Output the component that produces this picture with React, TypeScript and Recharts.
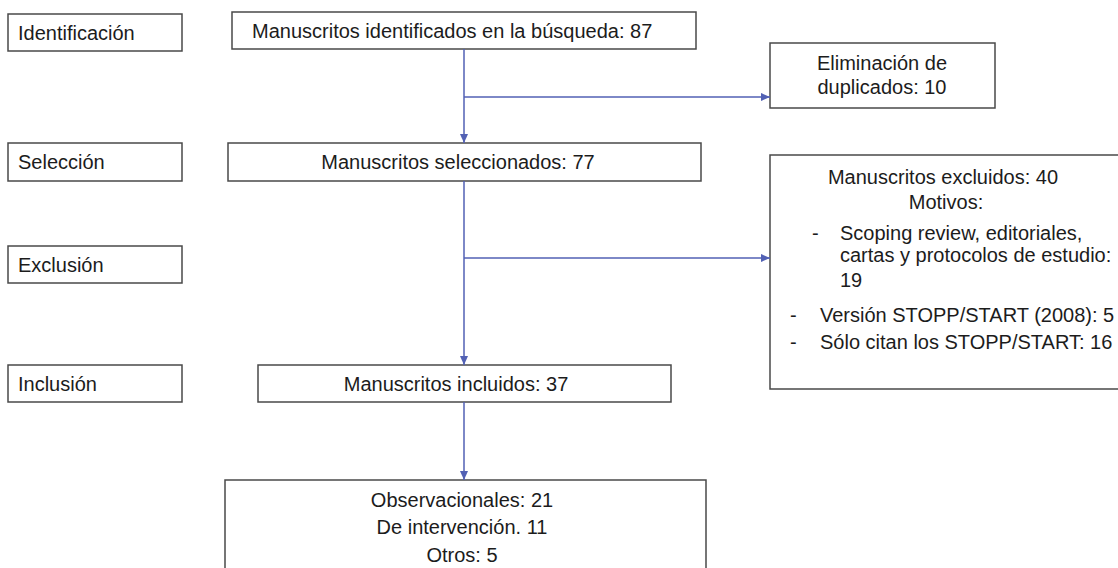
import { ReferenceArea, ReferenceLine, Scatter, ScatterChart, XAxis, YAxis } from "recharts";

// ---- content ----
const STAGES = ["Identificación", "Selección", "Exclusión", "Inclusión"];
const IDENTIFIED = 87;
const DUPLICATES = 10;
const SELECTED = 77;
const EXCLUDED = 40;
const INCLUDED = 37;
const EXCLUSION_REASONS = [
  ["Scoping review, editoriales,", "cartas y protocolos de estudio:"],
  ["Versión STOPP/START (2008):"],
  ["Sólo citan los STOPP/START:"],
];
const EXCLUSION_COUNTS = [19, 5, 16];
const STUDY_TYPES = ["Observacionales:", "De intervención.", "Otros:"];
const STUDY_COUNTS = [21, 11, 5];

// ---- layout (page px) ----
const W = 1118;
const H = 568;
const BLUE = "#5261b4";
const BOX_STROKE = "#4a4a4a";
const FONT = "'Liberation Sans', Arial, Helvetica, sans-serif";

const STAGE_BOXES = [
  [8, 182, 14, 51],
  [8, 182, 143, 181],
  [8, 182, 246, 283],
  [8, 182, 365, 402],
];
const FLOW_BOXES = [
  [232, 696, 12, 49],
  [770, 995, 43, 108],
  [228, 701, 143, 181],
  [770, 1125, 155, 389],
  [258, 671, 365, 402],
  [225, 706, 480, 580],
];
const CONNECTORS = [
  [464, 49, 464, 143],
  [464, 97, 770, 97],
  [464, 181, 464, 365],
  [464, 258, 770, 258],
  [464, 402, 464, 480],
];
const ARROWS = [
  { x: 464, y: 143, dir: "down" },
  { x: 770, y: 97, dir: "right" },
  { x: 464, y: 365, dir: "down" },
  { x: 770, y: 258, dir: "right" },
  { x: 464, y: 480, dir: "down" },
];

type TextPt = { x: number; y: number; text: string; anchor: "start" | "middle" | "end" };

const reasonLines: TextPt[] = [
  { x: 812, y: 233, text: "-", anchor: "start" },
  { x: 840, y: 233, text: EXCLUSION_REASONS[0][0], anchor: "start" },
  { x: 840, y: 255, text: EXCLUSION_REASONS[0][1], anchor: "start" },
  { x: 840, y: 280, text: String(EXCLUSION_COUNTS[0]), anchor: "start" },
  { x: 790, y: 315, text: "-", anchor: "start" },
  { x: 820, y: 315, text: `${EXCLUSION_REASONS[1][0]} ${EXCLUSION_COUNTS[1]}`, anchor: "start" },
  { x: 790, y: 342, text: "-", anchor: "start" },
  { x: 820, y: 342, text: `${EXCLUSION_REASONS[2][0]} ${EXCLUSION_COUNTS[2]}`, anchor: "start" },
];

const STUDY_Y = [500, 527, 555];

const TEXTS: TextPt[] = [
  ...STAGES.map((s, i) => ({
    x: 18,
    y: (STAGE_BOXES[i][2] + STAGE_BOXES[i][3]) / 2,
    text: s,
    anchor: "start" as const,
  })),
  { x: 252, y: 30.5, text: `Manuscritos identificados en la búsqueda: ${IDENTIFIED}`, anchor: "start" },
  { x: 882, y: 63, text: "Eliminación de", anchor: "middle" },
  { x: 882, y: 87, text: `duplicados: ${DUPLICATES}`, anchor: "middle" },
  { x: 458, y: 162, text: `Manuscritos seleccionados: ${SELECTED}`, anchor: "middle" },
  { x: 943, y: 177, text: `Manuscritos excluidos: ${EXCLUDED}`, anchor: "middle" },
  { x: 946, y: 202, text: "Motivos:", anchor: "middle" },
  ...reasonLines,
  { x: 456, y: 383.5, text: `Manuscritos incluidos: ${INCLUDED}`, anchor: "middle" },
  ...STUDY_TYPES.map((s, i) => ({
    x: 462,
    y: STUDY_Y[i],
    text: `${s} ${STUDY_COUNTS[i]}`,
    anchor: "middle" as const,
  })),
];

function TextShape(props: any) {
  const { cx, cy, payload } = props;
  return (
    <text
      x={cx}
      y={cy + 7}
      textAnchor={payload.anchor}
      fontSize={20}
      fontFamily={FONT}
      fill="#1c1c1c"
    >
      {payload.text}
    </text>
  );
}

function ArrowShape(props: any) {
  const { cx, cy, payload } = props;
  const pts =
    payload.dir === "down"
      ? `${cx - 4},${cy - 9} ${cx + 4},${cy - 9} ${cx},${cy}`
      : `${cx - 9},${cy - 4} ${cx - 9},${cy + 4} ${cx},${cy}`;
  return <polygon points={pts} fill={BLUE} />;
}

export default function App() {
  return (
    <div
      style={{
        position: "absolute",
        left: 0,
        top: 0,
        width: W,
        height: H,
        background: "#ffffff",
      }}
    >
      <ScatterChart width={W} height={H} margin={{ top: 0, right: 0, bottom: 0, left: 0 }}>
        <XAxis type="number" dataKey="x" domain={[0, W]} hide allowDataOverflow />
        <YAxis type="number" dataKey="y" domain={[0, H]} reversed hide allowDataOverflow />
        {[...STAGE_BOXES, ...FLOW_BOXES].map((b, i) => (
          <ReferenceArea
            key={`box-${i}`}
            x1={b[0]}
            x2={b[1]}
            y1={b[2]}
            y2={b[3]}
            fill="none"
            stroke={BOX_STROKE}
            strokeWidth={1.5}
            ifOverflow="visible"
          />
        ))}
        {CONNECTORS.map((c, i) => (
          <ReferenceLine
            key={`conn-${i}`}
            segment={[
              { x: c[0], y: c[1] },
              { x: c[2], y: c[3] },
            ]}
            stroke={BLUE}
            strokeWidth={1.5}
            ifOverflow="visible"
          />
        ))}
        <Scatter data={ARROWS} shape={ArrowShape} isAnimationActive={false} />
        <Scatter data={TEXTS} shape={TextShape} isAnimationActive={false} />
      </ScatterChart>
    </div>
  );
}
